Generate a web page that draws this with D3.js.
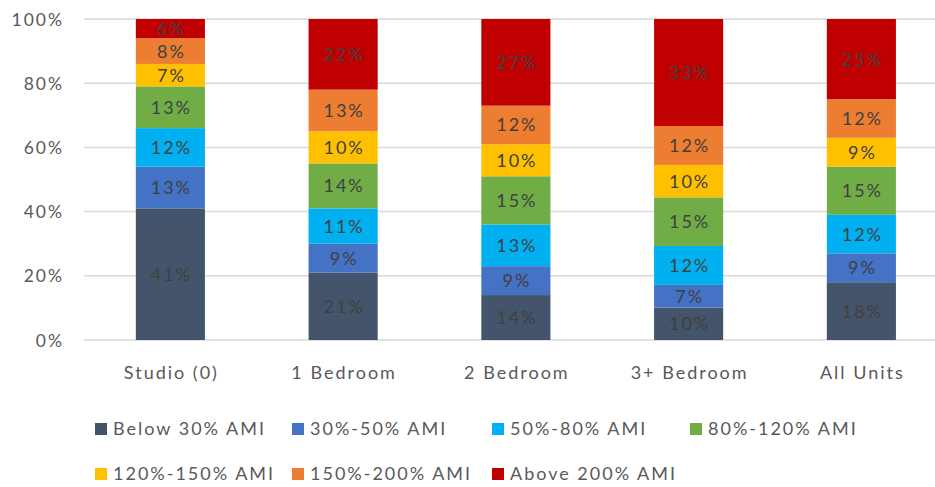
<!DOCTYPE html>
<html>
<head>
<meta charset="utf-8">
<script src="https://cdn.jsdelivr.net/npm/d3@7"></script>
<style>
  html, body { margin: 0; padding: 0; background: #fff; }
  svg { display: block; }
  text { font-family: Lato, "Open Sans", sans-serif; letter-spacing: 2px; }
</style>
</head>
<body>
<svg id="chart" width="935" height="487"></svg>
<script>
// Unit types along the x axis
const categories = ["Studio (0)", "1 Bedroom", "2 Bedroom", "3+ Bedroom", "All Units"];

// Income bands (stack order, bottom to top)
const seriesNames = ["Below 30% AMI", "30%-50% AMI", "50%-80% AMI", "80%-120% AMI",
                     "120%-150% AMI", "150%-200% AMI", "Above 200% AMI"];
const seriesColors = ["#44546A", "#4472C4", "#00B0F0", "#70AD47", "#FFC000", "#ED7D31", "#C00000"];

// Share of units (%) in each band, one value per unit type
const below30   = [41, 21, 14, 10, 18];
const ami30to50 = [13,  9,  9,  7,  9];
const ami50to80 = [12, 11, 13, 12, 12];
const ami80to120 = [13, 14, 15, 15, 15];
const ami120to150 = [7, 10, 10, 10,  9];
const ami150to200 = [8, 13, 12, 12, 12];
const above200  = [6, 22, 27, 33, 25];

const yTicks = [0, 0.2, 0.4, 0.6, 0.8, 1.0];

const seriesValues = [below30, ami30to50, ami50to80, ami80to120, ami120to150, ami150to200, above200];

const rows = categories.map((c, i) => {
  const r = { category: c };
  seriesNames.forEach((s, j) => { r[s] = seriesValues[j][i]; });
  return r;
});

const svg = d3.select("#chart");

const x = d3.scaleBand().domain(categories).range([84, 947.75]).paddingInner(0.6).paddingOuter(0.3);
const y = d3.scaleLinear().domain([0, 1]).range([340, 19]);

// Gridlines
svg.append("g").selectAll("line").data(yTicks).join("line")
  .attr("x1", 84).attr("x2", 947)
  .attr("y1", d => y(d)).attr("y2", d => y(d))
  .attr("stroke", "#D9D9D9").attr("stroke-width", 1.5);

// Y axis labels
const yAxis = d3.axisLeft(y).tickValues(yTicks).tickFormat(d3.format(".0%")).tickSize(0).tickPadding(0);
const ya = svg.append("g").attr("transform", "translate(64,0)").call(yAxis);
ya.select(".domain").remove();
ya.selectAll("text").attr("fill", "#595959").style("font-size", "17.5px")
  .style("font-family", "Lato, 'Open Sans', sans-serif").attr("dy", "0.35em");

// X axis labels
const xAxis = d3.axisBottom(x).tickSize(0).tickPadding(0);
const xa = svg.append("g").attr("transform", "translate(1,373)").call(xAxis);
xa.select(".domain").remove();
xa.selectAll("text").attr("fill", "#595959").style("font-size", "18px")
  .style("font-family", "Lato, 'Open Sans', sans-serif").attr("dy", "0.35em");

// Stacked bars, normalised to 100%
const stack = d3.stack().keys(seriesNames).offset(d3.stackOffsetExpand);
const layers = stack(rows);

const g = svg.append("g");
layers.forEach((layer, j) => {
  const lg = g.append("g").attr("fill", seriesColors[j]);
  lg.selectAll("rect").data(layer).join("rect")
    .attr("x", d => x(d.data.category))
    .attr("width", x.bandwidth())
    .attr("y", d => y(d[1]))
    .attr("height", d => y(d[0]) - y(d[1]));
});

// Value labels
layers.forEach((layer, j) => {
  g.append("g").selectAll("text").data(layer).join("text")
    .attr("x", d => x(d.data.category) + x.bandwidth() / 2 + 1)
    .attr("y", d => (y(d[0]) + y(d[1])) / 2)
    .attr("dy", "0.36em")
    .attr("text-anchor", "middle")
    .attr("fill", "#404040")
    .style("font-size", "18px")
    .text(d => d.data[layer.key] + "%");
});

// Legend
const legendPos = [[95, 429], [292, 429], [492, 429], [690, 429], [95, 474], [292, 474], [492, 474]];
const lg = svg.append("g");
seriesNames.forEach((s, j) => {
  const [lx, ly] = legendPos[j];
  lg.append("rect").attr("x", lx).attr("y", ly - 6).attr("width", 12).attr("height", 12)
    .attr("fill", seriesColors[j]);
  lg.append("text").attr("x", lx + 18).attr("y", ly).attr("dy", "0.35em")
    .attr("fill", "#595959").style("font-size", "18px").text(s);
});
</script>
</body>
</html>
